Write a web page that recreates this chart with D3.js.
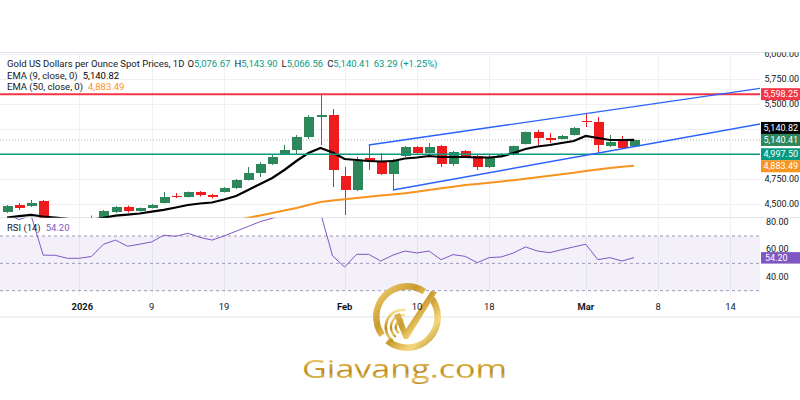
<!DOCTYPE html>
<html><head><meta charset="utf-8">
<script src="https://cdn.jsdelivr.net/npm/d3@7"></script>
<style>body{margin:0;background:#fff}svg{display:block}</style>
</head><body><svg id="c" width="800" height="400"></svg>
<script>
// ---------------- DATA ----------------
const opens  = [4420,4490,4480,4530,4330,4345,4310,4320,4335,4420,4470,4430,4460,4510,4580,4570,4620,4590,4620,4660,4740,4810,4900,5000,5040,5170,5370,5390,4780,4640,4960,4930,4800,4980,5070,5010,5080,4900,5030,4980,4870,4980,4990,5100,5220,5160,5150,5190,5330,5320,5080,5130,5076.67];
const highs  = [4490,4510,4540,4540,4360,4355,4340,4385,4440,4480,4485,4465,4500,4620,4610,4625,4630,4600,4670,4750,4870,4920,4990,5090,5190,5390,5595,5450,4870,4970,5090,5010,4950,5080,5080,5110,5090,5030,5040,4990,5000,5010,5085,5225,5240,5210,5190,5270,5400,5370,5190,5180,5143.90];
const lows   = [4410,4440,4470,4310,4300,4280,4300,4310,4320,4410,4415,4425,4455,4505,4560,4565,4575,4555,4615,4650,4735,4770,4890,4995,4990,5150,5090,4670,4390,4630,4840,4790,4640,4970,5000,5005,4870,4880,4960,4840,4860,4970,4985,5095,5090,5110,5145,5185,5270,5010,5070,5050,5066.56];
const closes = [4480,4460,4510,4330,4345,4310,4320,4340,4430,4470,4430,4460,4490,4570,4570,4620,4590,4570,4660,4740,4810,4900,4970,5040,5170,5370,5390,4840,4640,4930,4930,4800,4940,5070,5010,5070,4900,5020,4970,4870,4970,4990,5080,5220,5160,5140,5180,5260,5320,5090,5120,5060,5140.41];
const ema9   = [4365,4378,4392,4375,4365,4352,4343,4342,4362,4383,4393,4405,4423,4442,4465,4490,4505,4515,4545,4580,4640,4700,4760,4840,4930,5010,5060,5015,4950,4940,4930,4925,4930,4955,4965,4980,4970,4970,4970,4965,4965,4975,5010,5050,5075,5090,5110,5130,5180,5160,5140,5140,5140.82];
const ema50  = [null,null,null,null,null,null,null,null,null,null,null,null,null,null,null,null,null,null,4315,4338,4362,4386,4410,4435,4460,4490,4520,4535,4547,4560,4573,4585,4595,4607,4623,4640,4657,4673,4690,4700,4712,4725,4738,4752,4767,4782,4797,4812,4830,4845,4860,4872,4883.49];
const rsi    = [86,82,85,56,55.9,53.7,53.7,55,64,67,62.5,64,65.7,70.6,69.8,72,69,67,70,73.5,77,80.5,83,86,89,91,87,55.5,47.3,56.6,56.6,51.7,56,59,57.6,59,52.7,56.4,55.1,50.5,54.2,54.7,57.6,62,59,57.8,60,62,64,52.7,54.2,51.7,54.2];

const timeTickIdx    = [6,12,18,28,34,40,48,54,60];
const timeTickLabels = ["2026","9","19","Feb","10","18","Mar","8","14"];
const boldTickLabels = ["2026","Feb","Mar"];
const priceTicks = [4500,4750,5000,5250,5500,5750,6000];
const rsiTicks   = [40,60,80];
const rsiLevels  = [30,50,70];

const resistanceLevel = 5598.25;
const supportLevel    = 4997.5;
const channelUpper = [[30,5090],[64,5683]];
const channelLower = [[32,4640],[64,5334]];

const titleText = "Gold US Dollars per Ounce Spot Prices, 1D";
const ohlcLabels = ["O","H","L","C"];
const ohlcValues = ["5,076.67","5,143.90","5,066.56","5,140.41"];
const changeText = "63.29 (+1.25%)";
const ema9Title = "EMA (9, close, 0)",  ema9Value = 5140.82;
const ema50Title = "EMA (50, close, 0)", ema50Value = 4883.49;
const rsiTitle = "RSI (14)", rsiValue = 54.20;
const logoText = "Giavang.com";

// ---------------- LAYOUT ----------------
const W = 800, H = 400;
const plotRight = 760;
const paneTop = 52.5, paneSplit = 217.7, rsiBottom = 296, axisBottom = 317;
const FONT = "Roboto, 'Noto Sans', sans-serif";
const UP = "#2d875a", DOWN = "#ee1c1c", TXT = "#131722";
const AXF = 9;

const svg = d3.select("#c");
const x = d3.scaleLinear().domain([0, 52]).range([7, 634]);
const y = d3.scaleLinear().domain([4500, 6000]).range([204, 54]);
const yr = d3.scaleLinear().domain([30, 70]).range([290.7, 236]);
const fmt2 = d3.format(",.2f");

const defs = svg.append("defs");
defs.append("clipPath").attr("id","pClip").append("rect").attr("x",0).attr("y",paneTop).attr("width",plotRight).attr("height",paneSplit-paneTop);
defs.append("clipPath").attr("id","rClip").append("rect").attr("x",0).attr("y",paneSplit).attr("width",plotRight).attr("height",rsiBottom-paneSplit);
defs.append("clipPath").attr("id","axClip").append("rect").attr("x",plotRight).attr("y",paneTop).attr("width",W-plotRight).attr("height",paneSplit-paneTop);

const gold = defs.append("linearGradient").attr("id","gold").attr("x1",0).attr("y1",0).attr("x2",0).attr("y2",1);
[["0%","#fbe7a1"],["35%","#e2b64c"],["60%","#b98a1f"],["85%","#e9c766"],["100%","#a8781a"]].forEach(s=>gold.append("stop").attr("offset",s[0]).attr("stop-color",s[1]));
const gold2 = defs.append("linearGradient").attr("id","gold2").attr("x1",0).attr("y1",0).attr("x2",1).attr("y2",1);
[["0%","#f8dc84"],["45%","#c99a2e"],["70%","#f5d97e"],["100%","#a8761a"]].forEach(s=>gold2.append("stop").attr("offset",s[0]).attr("stop-color",s[1]));

// borders
svg.append("line").attr("x1",0).attr("x2",W).attr("y1",paneTop).attr("y2",paneTop).attr("stroke","#e0e3eb");
svg.append("line").attr("x1",0).attr("x2",W).attr("y1",paneSplit).attr("y2",paneSplit).attr("stroke","#e0e3eb");
svg.append("line").attr("x1",0).attr("x2",W).attr("y1",axisBottom).attr("y2",axisBottom).attr("stroke","#e0e3eb");

// grid
const grid = svg.append("g").attr("stroke","#eef0f5").attr("stroke-width",1);
timeTickIdx.forEach(i=>grid.append("line").attr("x1",Math.round(x(i))+0.5).attr("x2",Math.round(x(i))+0.5).attr("y1",paneTop).attr("y2",rsiBottom));
priceTicks.forEach(p=>grid.append("line").attr("x1",0).attr("x2",plotRight).attr("y1",Math.round(y(p))+0.5).attr("y2",Math.round(y(p))+0.5).attr("clip-path","url(#pClip)"));

// RSI pane
const rg = svg.append("g").attr("clip-path","url(#rClip)");
rg.append("rect").attr("x",0).attr("width",plotRight).attr("y",yr(70)).attr("height",yr(30)-yr(70)).attr("fill","rgba(126,87,194,0.09)");
rsiLevels.forEach(v=>rg.append("line").attr("x1",0).attr("x2",plotRight).attr("y1",yr(v)).attr("y2",yr(v)).attr("stroke","#9e98b4").attr("stroke-dasharray","3,3").attr("stroke-width",1));
rg.append("path").datum(rsi).attr("fill","none").attr("stroke","#7e57c2").attr("stroke-width",1)
  .attr("d",d3.line().x((d,i)=>x(i)).y(d=>yr(d)));

// Price pane
const pg = svg.append("g").attr("clip-path","url(#pClip)");
pg.append("line").attr("x1",0).attr("x2",plotRight).attr("y1",y(closes[closes.length-1])).attr("y2",y(closes[closes.length-1])).attr("stroke","#9598a1").attr("stroke-dasharray","1,2").attr("opacity",0.7);
const idx = d3.range(closes.length);
const cg = pg.append("g");
cg.selectAll("line.w").data(idx).join("line").attr("class","w")
  .attr("x1",i=>Math.round(x(i))+0.5).attr("x2",i=>Math.round(x(i))+0.5)
  .attr("y1",i=>y(highs[i])).attr("y2",i=>y(lows[i]))
  .attr("stroke",i=>closes[i]>=opens[i]?UP:DOWN).attr("stroke-width",1);
cg.selectAll("rect.b").data(idx).join("rect").attr("class","b")
  .attr("x",i=>Math.round(x(i))-4).attr("width",10)
  .attr("y",i=>y(Math.max(opens[i],closes[i])))
  .attr("height",i=>Math.max(1,Math.abs(y(opens[i])-y(closes[i]))))
  .attr("fill",i=>closes[i]>=opens[i]?UP:DOWN);
pg.append("path").datum(ema50).attr("fill","none").attr("stroke","#f7941d").attr("stroke-width",2)
  .attr("d",d3.line().defined(d=>d!=null).x((d,i)=>x(i)).y(d=>y(d)));
pg.append("path").datum(ema9).attr("fill","none").attr("stroke","#000").attr("stroke-width",2.2)
  .attr("d",d3.line().x((d,i)=>x(i)).y(d=>y(d)));
pg.append("line").attr("x1",0).attr("x2",plotRight).attr("y1",y(resistanceLevel)).attr("y2",y(resistanceLevel)).attr("stroke","#f23645").attr("stroke-width",2);
pg.append("line").attr("x1",0).attr("x2",plotRight).attr("y1",y(supportLevel)).attr("y2",y(supportLevel)).attr("stroke","#089981").attr("stroke-width",1.5);
[channelUpper, channelLower].forEach(c=>pg.append("line")
  .attr("x1",x(c[0][0])).attr("y1",y(c[0][1])).attr("x2",x(c[1][0])).attr("y2",y(c[1][1]))
  .attr("stroke","#2962ff").attr("stroke-width",1.4));

// Price axis labels
const markers = [
  {v:resistanceLevel, bg:"#f23645"},
  {v:ema9Value, bg:"#000000"},
  {v:closes[closes.length-1], bg:UP},
  {v:supportLevel, bg:"#089981"},
  {v:ema50Value, bg:"#f7941d"}
];
markers.forEach(m=>m.y=y(m.v));
const ci = 2, gap = 12;
for (let k=ci-1;k>=1;k--){ if (markers[k+1].y - markers[k].y < gap) markers[k].y = markers[k+1].y - gap; }
for (let k=ci+1;k<markers.length;k++){ if (markers[k].y - markers[k-1].y < gap) markers[k].y = markers[k-1].y + gap; }
const ax = svg.append("g").attr("clip-path","url(#axClip)").attr("font-family",FONT).attr("font-size",AXF);
priceTicks.forEach(p=>{
  if (markers.some(m=>Math.abs(m.y-y(p))<9)) return;
  ax.append("text").attr("x",764.5).attr("y",y(p)).attr("dy","0.35em").attr("fill",TXT).text(fmt2(p));
});
markers.forEach(m=>{
  ax.append("rect").attr("x",761).attr("y",m.y-6).attr("width",40).attr("height",12).attr("fill",m.bg);
  ax.append("text").attr("x",763.5).attr("y",m.y).attr("dy","0.35em").attr("fill","#fff").text(fmt2(m.v));
});
// RSI axis
const rax = svg.append("g").attr("font-family",FONT).attr("font-size",AXF);
rsiTicks.forEach(v=>rax.append("text").attr("x",766).attr("y",yr(v)-(v===60?1:0)).attr("dy","0.35em").attr("fill",TXT).text(fmt2(v)));
rax.append("rect").attr("x",761).attr("y",yr(rsiValue)-5.5).attr("width",40).attr("height",11.5).attr("fill","#7e57c2");
rax.append("text").attr("x",765).attr("y",yr(rsiValue)+0.5).attr("dy","0.35em").attr("fill","#fff").text(fmt2(rsiValue));

// ---------------- LOGO ----------------
const lg = svg.append("g");
const lc = [407, 317];
const arc = d3.arc().innerRadius(27.5).outerRadius(34);
[[Math.PI*0.27, Math.PI*1.22],[Math.PI*1.30, Math.PI*2.19]].forEach(a=>
  lg.append("path").attr("transform",`translate(${lc})`).attr("d",arc({startAngle:a[0],endAngle:a[1]})).attr("fill","url(#gold2)"));
const sarc = d3.arc();
[[6,8.3],[11,13.3],[16,18.5]].forEach(r=>
  lg.append("path").attr("transform",`translate(${lc[0]-4},${lc[1]+10})`)
   .attr("d",sarc({innerRadius:r[0],outerRadius:r[1],startAngle:Math.PI*1.2,endAngle:Math.PI*2.05})).attr("fill","url(#gold)"));
lg.append("path").attr("d",`M${lc[0]-13},${lc[1]-2} L${lc[0]-7},${lc[1]-4} L${lc[0]-1},${lc[1]+12} L${lc[0]+24},${lc[1]-26} L${lc[0]+30},${lc[1]-25} L${lc[0]+1},${lc[1]+22} L${lc[0]-3},${lc[1]+22} Z`).attr("fill","url(#gold2)");
lg.append("text").attr("x",302).attr("y",378).attr("textLength",205).attr("lengthAdjust","spacingAndGlyphs")
  .attr("font-family","'Open Sans', 'DejaVu Sans', sans-serif").attr("font-size",25).attr("fill","url(#gold)").text(logoText);

// time axis
const tg = svg.append("g").attr("font-family",FONT).attr("font-size",9.4).attr("fill",TXT).attr("text-anchor","middle");
timeTickIdx.forEach((i,k)=>tg.append("text").attr("x",x(i)+(k===0?3:0)).attr("y",307).attr("dy","0.35em")
  .attr("font-weight",boldTickLabels.includes(timeTickLabels[k])?700:400).text(timeTickLabels[k]));

// ---------------- LEGEND ----------------
const hg = svg.append("g").attr("font-family",FONT).attr("font-size",9.5).attr("fill",TXT);
const t1 = hg.append("text").attr("x",7).attr("y",66.5);
t1.append("tspan").text(titleText);
ohlcLabels.forEach((l,k)=>{
  t1.append("tspan").attr("dx",k===0?3:4).text(l);
  t1.append("tspan").attr("fill","#089981").text(ohlcValues[k]);
});
t1.append("tspan").attr("dx",4).attr("fill","#089981").text(changeText);
const t2 = hg.append("text").attr("x",7).attr("y",78.5);
t2.append("tspan").text(ema9Title);
t2.append("tspan").attr("dx",5).attr("fill","#000").text(fmt2(ema9Value));
const t3 = hg.append("text").attr("x",7).attr("y",89.5);
t3.append("tspan").text(ema50Title);
t3.append("tspan").attr("dx",5).attr("fill","#f7941d").text(fmt2(ema50Value));
const t4 = hg.append("text").attr("x",7).attr("y",230.5);
t4.append("tspan").text(rsiTitle);
t4.append("tspan").attr("dx",5).attr("fill","#7e57c2").text(fmt2(rsiValue));
</script></body></html>
